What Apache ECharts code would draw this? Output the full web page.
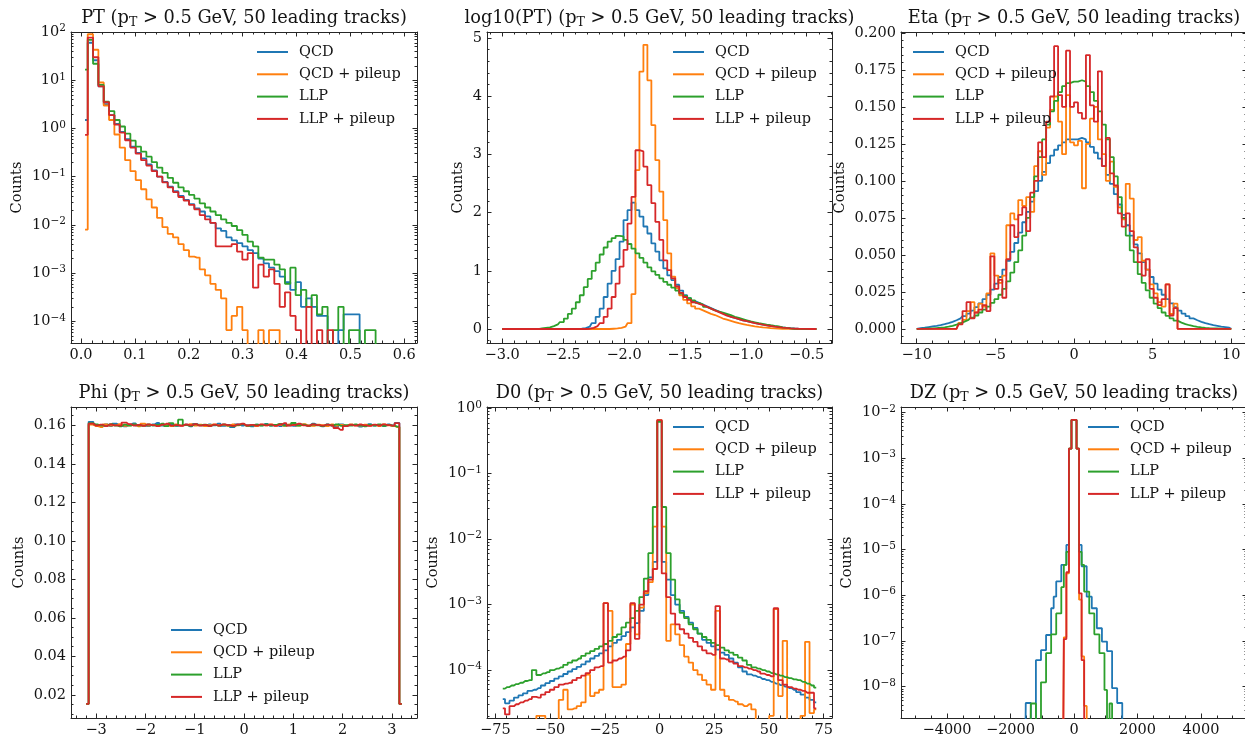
<!DOCTYPE html>
<html>
<head>
<meta charset="utf-8">
<title>Track-level distributions</title>
<script src="https://cdn.jsdelivr.net/npm/echarts@6/dist/echarts.min.js"></script>
<style>
  html, body { margin: 0; padding: 0; background: #ffffff; }
  #chart { width: 1245px; height: 739px; }
</style>
</head>
<body>
<div id="chart"></div>
<script>
// ---------------- data ----------------
const SERIES_NAMES = ['QCD', 'QCD + pileup', 'LLP', 'LLP + pileup'];
const COLORS = ['#1f77b4', '#ff7f0e', '#2ca02c', '#d62728'];

// PT histogram (density), bin centres from first to last
const ptBins = { first: 0.0075, last: 0.5913, n: 60 };
const ptXTicks = [0, 0.1, 0.2, 0.3, 0.4, 0.5, 0.6];
const ptYTicks = [1e-4, 1e-3, 1e-2, 1e-1, 1, 10, 100];
const ptQCD = [
  1.5, 60, 26, 7.5, 3.2, 1.9, 1.25, 0.85, 0.6, 0.42,
  0.31, 0.24, 0.18, 0.135, 0.1, 0.078, 0.062, 0.05, 0.04, 0.033,
  0.027, 0.022, 0.019, 0.015, 0.011, 0.0085, 0.0075, 0.0055, 0.0048, 0.0042,
  0.0036, 0.003, 0.0026, 0.002, 0.0016, 0.0013, 0.0011, 0.00085, 0.00065, 0.00045,
  0.00065, 0.0002, 0.0003, 0.0002, 0.00013, 0.00013, 0, 0, 0.000066, 0.00014,
  0.00014, 0.00014, 0, 0, 0, 0, 0, 0, 0, 0
];
const ptQCDpu = [
  0.008, 90, 43, 9, 3.0, 1.5, 0.75, 0.4, 0.22, 0.13,
  0.085, 0.055, 0.034, 0.023, 0.014, 0.009, 0.0065, 0.0055, 0.004, 0.003,
  0.0022, 0.0021, 0.0012, 0.0009, 0.0006, 0.00045, 0.0003, 0.000066, 0.00013, 0.0002,
  0.000066, 0, 0, 0.000066, 0, 0.000066, 0.000066, 0, 0, 0,
  0, 0, 0, 0, 0, 0, 0, 0, 0, 0,
  0, 0, 0, 0, 0, 0, 0, 0, 0, 0
];
const ptLLP = [
  16.6, 69, 22, 8.0, 3.6, 2.3, 1.5, 1.1, 0.78, 0.56,
  0.42, 0.33, 0.26, 0.2, 0.155, 0.12, 0.095, 0.075, 0.06, 0.05,
  0.042, 0.035, 0.028, 0.023, 0.019, 0.016, 0.013, 0.011, 0.0095, 0.0078,
  0.0062, 0.0045, 0.0036, 0.0021, 0.0019, 0.0019, 0.0015, 0.0012, 0.0006, 0.0013,
  0.00035, 0.00045, 0.0002, 0.00035, 0.00014, 0.0002, 0, 0.000066, 0.0002, 0,
  0.000066, 0.000066, 0, 0.000066, 0.000066, 0, 0, 0, 0, 0
];
const ptLLPpu = [
  0.74, 77, 30, 7.5, 3.5, 1.9, 1.2, 0.82, 0.57, 0.4,
  0.3, 0.22, 0.17, 0.13, 0.1, 0.076, 0.06, 0.048, 0.038, 0.032,
  0.026, 0.021, 0.016, 0.013, 0.011, 0.0036, 0.0036, 0.0036, 0.004, 0.0028,
  0.0019, 0.0026, 0.0005, 0.0015, 0.00085, 0.0012, 0.0006, 0.0002, 0.0004, 0.00013,
  0.000066, 0, 0.0002, 0, 0.000066, 0, 0.000066, 0, 0, 0,
  0, 0, 0, 0, 0, 0, 0, 0, 0, 0
];

// log10(PT)
const logPtBins = { first: -3.0, last: -0.42, n: 80 };
const logPtXTicks = [-3.0, -2.5, -2.0, -1.5, -1.0, -0.5];
const logPtYTicks = [0, 1, 2, 3, 4, 5];
const logPtQCD = [
  0, 0, 0, 0, 0, 0, 0, 0, 0, 0,
  0, 0, 0, 0, 0, 0, 0, 0, 0, 0,
  0.005, 0.015, 0.04, 0.1, 0.21, 0.35, 0.55, 0.78, 1.0, 1.2,
  1.5, 1.87, 2.04, 2.17, 2.04, 1.93, 1.76, 1.64, 1.47, 1.33,
  1.18, 1.04, 0.92, 0.84, 0.76, 0.66, 0.58, 0.53, 0.48, 0.45,
  0.42, 0.39, 0.36, 0.33, 0.3, 0.27, 0.24, 0.21, 0.19, 0.17,
  0.15, 0.135, 0.12, 0.105, 0.09, 0.077, 0.065, 0.054, 0.044, 0.035,
  0.027, 0.02, 0.014, 0.009, 0.005, 0.003, 0.001, 0, 0, 0
];
const logPtQCDpu = [
  0, 0, 0, 0, 0, 0, 0, 0, 0, 0,
  0, 0, 0, 0, 0, 0, 0, 0, 0, 0,
  0, 0, 0, 0, 0, 0, 0, 0, 0.005, 0.01,
  0.02, 0.04, 0.1, 0.6, 2.73, 4.42, 4.88, 4.27, 3.5, 2.9,
  2.36, 1.87, 1.3, 0.9, 0.7, 0.58, 0.5, 0.44, 0.39, 0.35,
  0.32, 0.29, 0.26, 0.24, 0.21, 0.18, 0.16, 0.14, 0.12, 0.1,
  0.085, 0.07, 0.058, 0.047, 0.038, 0.03, 0.023, 0.017, 0.012, 0.008,
  0.005, 0.003, 0.002, 0.001, 0, 0, 0, 0, 0, 0
];
const logPtLLP = [
  0, 0, 0, 0, 0, 0, 0, 0, 0, 0,
  0.01, 0.02, 0.03, 0.05, 0.08, 0.12, 0.18, 0.26, 0.35, 0.46,
  0.58, 0.72, 0.86, 1.0, 1.14, 1.28, 1.4, 1.5, 1.56, 1.6,
  1.59, 1.53, 1.46, 1.38, 1.3, 1.22, 1.14, 1.06, 0.99, 0.93,
  0.87, 0.81, 0.76, 0.71, 0.66, 0.61, 0.57, 0.53, 0.49, 0.45,
  0.42, 0.38, 0.35, 0.32, 0.3, 0.28, 0.26, 0.24, 0.21, 0.19,
  0.17, 0.15, 0.13, 0.115, 0.1, 0.088, 0.076, 0.065, 0.055, 0.046,
  0.03, 0.02, 0.012, 0.005, 0.002, 0, 0, 0, 0, 0
];
const logPtLLPpu = [
  0, 0, 0, 0, 0, 0, 0, 0, 0, 0,
  0, 0, 0, 0, 0, 0, 0, 0, 0, 0,
  0, 0, 0.005, 0.02, 0.05, 0.1, 0.21, 0.35, 0.55, 0.78,
  1.07, 1.36, 1.81, 2.27, 3.07, 3.05, 2.79, 2.47, 2.16, 1.84,
  1.53, 1.18, 1.01, 0.87, 0.73, 0.62, 0.55, 0.5, 0.46, 0.43,
  0.41, 0.38, 0.35, 0.32, 0.29, 0.26, 0.23, 0.21, 0.19, 0.17,
  0.15, 0.135, 0.12, 0.1, 0.088, 0.075, 0.063, 0.052, 0.042, 0.033,
  0.025, 0.018, 0.012, 0.008, 0.005, 0.003, 0.001, 0, 0, 0
];

// Eta
const etaBins = { first: -10, last: 10, n: 80 };
const etaXTicks = [-10, -5, 0, 5, 10];
const etaYTicks = [0, 0.025, 0.05, 0.075, 0.1, 0.125, 0.15, 0.175, 0.2];
const etaQCD = [
  0, 0.0005, 0.0008, 0.0012, 0.0016, 0.002, 0.0025, 0.0031, 0.0038, 0.0047,
  0.0058, 0.007, 0.0085, 0.0103, 0.0123, 0.0146, 0.0172, 0.02, 0.023, 0.0265,
  0.0305, 0.035, 0.04, 0.046, 0.052, 0.058, 0.065, 0.072, 0.079, 0.086,
  0.093, 0.1, 0.106, 0.112, 0.117, 0.121, 0.124, 0.126, 0.128, 0.128,
  0.128, 0.129, 0.128, 0.126, 0.123, 0.119, 0.115, 0.11, 0.104, 0.098,
  0.091, 0.084, 0.077, 0.07, 0.063, 0.057, 0.051, 0.045, 0.04, 0.035,
  0.0305, 0.0265, 0.023, 0.02, 0.0172, 0.0146, 0.0123, 0.0103, 0.0085, 0.007,
  0.0058, 0.0047, 0.0038, 0.0031, 0.0025, 0.002, 0.0015, 0.0011, 0.0007, 0
];
const etaQCDpu = [
  0, 0, 0, 0, 0, 0, 0, 0, 0, 0,
  0, 0.004, 0.006, 0.012, 0.018, 0.011, 0.017, 0.015, 0.024, 0.051,
  0.036, 0.031, 0.036, 0.07, 0.078, 0.074, 0.087, 0.083, 0.089, 0.079,
  0.11, 0.12, 0.104, 0.136, 0.148, 0.157, 0.14, 0.118, 0.158, 0.126,
  0.124, 0.127, 0.095, 0.125, 0.142, 0.15, 0.128, 0.118, 0.1, 0.113,
  0.096, 0.082, 0.074, 0.098, 0.088, 0.06, 0.062, 0.046, 0.04, 0.03,
  0.024, 0.018, 0.015, 0.03, 0.01, 0.017, 0, 0, 0, 0,
  0, 0, 0, 0, 0, 0, 0, 0, 0, 0
];
const etaLLP = [
  0, 0, 0.0001, 0.0002, 0.0003, 0.0005, 0.0007, 0.001, 0.0014, 0.002,
  0.0028, 0.0037, 0.0048, 0.006, 0.0075, 0.009, 0.011, 0.013, 0.015, 0.0175,
  0.02, 0.023, 0.027, 0.032, 0.038, 0.045, 0.053, 0.063, 0.075, 0.089,
  0.103, 0.116, 0.128, 0.138, 0.147, 0.154, 0.16, 0.164, 0.166, 0.167,
  0.167, 0.168, 0.167, 0.164, 0.16, 0.154, 0.147, 0.138, 0.128, 0.116,
  0.103, 0.089, 0.075, 0.063, 0.053, 0.045, 0.037, 0.031, 0.026, 0.021,
  0.017, 0.014, 0.011, 0.0088, 0.007, 0.0055, 0.0042, 0.0032, 0.0024, 0.0018,
  0.0013, 0.0009, 0.0006, 0.0004, 0.0003, 0.0002, 0.0001, 0, 0, 0
];
const etaLLPpu = [
  0, 0, 0, 0, 0, 0, 0, 0, 0, 0,
  0, 0.003, 0.012, 0.018, 0.007, 0.011, 0.013, 0.016, 0.012, 0.049,
  0.027, 0.033, 0.021, 0.047, 0.07, 0.062, 0.077, 0.082, 0.066, 0.092,
  0.1, 0.126, 0.116, 0.14, 0.157, 0.191, 0.158, 0.15, 0.188, 0.15,
  0.153, 0.146, 0.142, 0.185, 0.151, 0.14, 0.174, 0.11, 0.129, 0.105,
  0.097, 0.078, 0.069, 0.078, 0.066, 0.055, 0.045, 0.036, 0.047, 0.027,
  0.021, 0.016, 0.02, 0.03, 0.009, 0.014, 0, 0, 0, 0,
  0, 0, 0, 0, 0, 0, 0, 0, 0, 0
];

// Phi
const phiBins = { first: -3.2, last: 3.2, n: 68 };
const phiXTicks = [-3, -2, -1, 0, 1, 2, 3];
const phiYTicks = [0.02, 0.04, 0.06, 0.08, 0.1, 0.12, 0.14, 0.16];
const phiQCD = [
  0.0153, 0.1618, 0.1602, 0.1597, 0.1605, 0.1596, 0.1608, 0.1600, 0.1594, 0.1603,
  0.1610, 0.1599, 0.1601, 0.1596, 0.1604, 0.1612, 0.1598, 0.1601, 0.1606, 0.1597,
  0.1600, 0.1603, 0.1595, 0.1607, 0.1601, 0.1598, 0.1604, 0.1600, 0.1609, 0.1597,
  0.1602, 0.1590, 0.1605, 0.1599, 0.1601, 0.1594, 0.1603, 0.1600, 0.1607, 0.1598,
  0.1602, 0.1596, 0.1604, 0.1600, 0.1597, 0.1606, 0.1601, 0.1599, 0.1608, 0.1602,
  0.1595, 0.1604, 0.1600, 0.1593, 0.1605, 0.1596, 0.1603, 0.1601, 0.1593, 0.1600,
  0.1606, 0.1598, 0.1602, 0.1596, 0.1604, 0.1599, 0.1612, 0.0153
];
const phiQCDpu = [
  0.0153, 0.1603, 0.1596, 0.1591, 0.1604, 0.1598, 0.1601, 0.1606, 0.1597, 0.1600,
  0.1603, 0.1595, 0.1608, 0.1599, 0.1602, 0.1597, 0.1604, 0.1600, 0.1596, 0.1605,
  0.1599, 0.1601, 0.1606, 0.1598, 0.1603, 0.1596, 0.1601, 0.1605, 0.1599, 0.1602,
  0.1597, 0.1604, 0.1600, 0.1607, 0.1598, 0.1601, 0.1596, 0.1603, 0.1600, 0.1605,
  0.1599, 0.1602, 0.1597, 0.1604, 0.1601, 0.1598, 0.1606, 0.1600, 0.1597, 0.1603,
  0.1601, 0.1596, 0.1604, 0.1599, 0.1602, 0.1597, 0.1605, 0.1600, 0.1598, 0.1603,
  0.1599, 0.1602, 0.1596, 0.1604, 0.1600, 0.1597, 0.1591, 0.0153
];
const phiLLP = [
  0.0153, 0.1611, 0.1604, 0.1600, 0.1596, 0.1606, 0.1599, 0.1595, 0.1603, 0.1598,
  0.1605, 0.1600, 0.1597, 0.1604, 0.1599, 0.1602, 0.1608, 0.1596, 0.1611, 0.1598,
  0.1629, 0.1601, 0.1597, 0.1605, 0.1600, 0.1603, 0.1596, 0.1602, 0.1598, 0.1604,
  0.1599, 0.1595, 0.1601, 0.1606, 0.1597, 0.1600, 0.1603, 0.1598, 0.1605, 0.1599,
  0.1602, 0.1607, 0.1598, 0.1601, 0.1612, 0.1599, 0.1603, 0.1597, 0.1604, 0.1600,
  0.1596, 0.1603, 0.1599, 0.1605, 0.1597, 0.1601, 0.1598, 0.1604, 0.1600, 0.1595,
  0.1602, 0.1599, 0.1605, 0.1597, 0.1601, 0.1598, 0.1593, 0.0153
];
const phiLLPpu = [
  0.0153, 0.1609, 0.1599, 0.1603, 0.1596, 0.1604, 0.1600, 0.1598, 0.1614, 0.1606,
  0.1599, 0.1602, 0.1597, 0.1605, 0.1601, 0.1596, 0.1603, 0.1608, 0.1598, 0.1601,
  0.1597, 0.1604, 0.1600, 0.1606, 0.1598, 0.1602, 0.1596, 0.1603, 0.1599, 0.1605,
  0.1601, 0.1597, 0.1604, 0.1608, 0.1599, 0.1602, 0.1598, 0.1605, 0.1600, 0.1603,
  0.1597, 0.1604, 0.1611, 0.1599, 0.1602, 0.1608, 0.1600, 0.1597, 0.1605, 0.1601,
  0.1598, 0.1603, 0.1599, 0.1586, 0.1576, 0.1596, 0.1602, 0.1598, 0.1604, 0.1600,
  0.1597, 0.1603, 0.1599, 0.1605, 0.1601, 0.1598, 0.1611, 0.0153
];

// D0
const d0Bins = { first: -71.6, last: 71.6, n: 71 };
const d0XTicks = [-75, -50, -25, 0, 25, 50, 75];
const d0YTicks = [1e-4, 1e-3, 1e-2, 1e-1, 1];
const d0QCD = [
  3.6e-5, 3.1e-5, 3.4e-5, 3.8e-5, 4.1e-5, 4.4e-5, 4.8e-5, 5.0e-5, 5.3e-5, 5.8e-5,
  6.3e-5, 6.8e-5, 7.4e-5, 8.0e-5, 8.7e-5, 9.5e-5, 1.03e-4, 1.12e-4, 1.22e-4, 1.35e-4,
  1.5e-4, 1.65e-4, 1.8e-4, 2.0e-4, 2.3e-4, 2.6e-4, 2.9e-4, 3.3e-4, 3.8e-4, 4.5e-4,
  5.2e-4, 8.0e-4, 1.4e-3, 2.6e-3, 4.5e-3, 0.64, 4.5e-3, 2.4e-3, 1.4e-3, 1.0e-3,
  8.0e-4, 6.5e-4, 5.3e-4, 4.4e-4, 3.6e-4, 2.9e-4, 2.6e-4, 2.3e-4, 2.05e-4, 1.85e-4,
  1.7e-4, 1.5e-4, 1.3e-4, 1.1e-4, 9.5e-5, 8.6e-5, 8.2e-5, 7.8e-5, 7.3e-5, 7.0e-5,
  6.6e-5, 6.2e-5, 5.9e-5, 5.6e-5, 5.3e-5, 5.0e-5, 4.6e-5, 4.2e-5, 3.8e-5, 3.5e-5, 3.2e-5
];
const d0QCDpu = [
  0, 0, 0, 0, 0, 0, 0, 0, 2.0e-5, 2.0e-5,
  0, 0, 0, 3.5e-5, 5.0e-5, 2.5e-5, 2.6e-5, 2.8e-5, 3.2e-5, 8.5e-5,
  4.0e-5, 4.5e-5, 5.0e-5, 1.05e-3, 8.0e-4, 5.5e-5, 5.5e-5, 6.0e-5, 2.5e-4, 1.0e-3,
  3.5e-4, 9.0e-4, 1.5e-3, 2.2e-3, 1.55e-2, 0.66, 1.55e-2, 2.8e-4, 5.0e-4, 3.5e-4,
  2.4e-4, 1.6e-4, 1.3e-4, 1.0e-4, 8.5e-5, 7.0e-5, 6.0e-5, 5.0e-5, 8.0e-4, 5.0e-5,
  4.0e-5, 3.5e-5, 3.3e-5, 3.0e-5, 2.8e-5, 3.0e-5, 2.5e-5, 0, 0, 0,
  2.0e-5, 8.5e-4, 4.0e-5, 2.8e-4, 0, 0, 0, 2.0e-5, 2.7e-4, 2.2e-5, 2.5e-5
];
const d0LLP = [
  5.2e-5, 5.5e-5, 5.8e-5, 6.1e-5, 6.4e-5, 6.8e-5, 7.0e-5, 1.0e-4, 8.4e-5, 8.9e-5,
  9.3e-5, 1.0e-4, 1.05e-4, 1.1e-4, 1.2e-4, 1.3e-4, 1.4e-4, 1.5e-4, 1.65e-4, 1.8e-4,
  1.95e-4, 2.1e-4, 2.3e-4, 2.5e-4, 2.8e-4, 3.2e-4, 3.5e-4, 4.5e-4, 5.3e-4, 6.2e-4,
  8.0e-4, 1.3e-3, 2.5e-3, 6.1e-3, 3.1e-2, 0.62, 3.1e-2, 6.1e-3, 2.4e-3, 1.2e-3,
  7.5e-4, 6.2e-4, 5.0e-4, 4.2e-4, 3.6e-4, 3.2e-4, 2.9e-4, 2.6e-4, 2.4e-4, 2.2e-4,
  2.0e-4, 1.85e-4, 1.7e-4, 1.55e-4, 1.4e-4, 1.2e-4, 1.1e-4, 1.05e-4, 1.0e-4, 9.5e-5,
  9.0e-5, 8.6e-5, 8.2e-5, 7.8e-5, 7.5e-5, 7.2e-5, 7.0e-5, 6.6e-5, 6.2e-5, 5.8e-5, 5.4e-5
];
const d0LLPpu = [
  2.6e-5, 2.1e-5, 2.8e-5, 3.0e-5, 3.2e-5, 3.4e-5, 3.6e-5, 3.9e-5, 3.8e-5, 4.2e-5,
  4.6e-5, 5.0e-5, 5.5e-5, 6.0e-5, 6.2e-5, 6.4e-5, 7.0e-5, 7.6e-5, 8.2e-5, 9.0e-5,
  1.0e-4, 1.1e-4, 1.15e-4, 1.05e-3, 1.3e-4, 1.4e-4, 1.5e-4, 1.6e-4, 2.0e-4, 1.05e-3,
  3.0e-4, 1.0e-3, 1.6e-3, 2.4e-3, 3.5e-3, 0.66, 3.0e-3, 1.3e-3, 7.3e-4, 5.0e-4,
  4.2e-4, 3.6e-4, 3.1e-4, 2.7e-4, 2.3e-4, 2.0e-4, 1.8e-4, 1.7e-4, 9.5e-4, 1.5e-4,
  1.45e-4, 1.35e-4, 1.25e-4, 1.15e-4, 1.1e-4, 1.05e-4, 1.0e-4, 9.5e-5, 8.8e-5, 8.4e-5,
  8.0e-5, 8.8e-4, 7.0e-5, 6.0e-5, 5.5e-5, 5.2e-5, 5.0e-5, 4.8e-5, 4.5e-5, 4.5e-5, 2.6e-5
];

// DZ
const dzBins = { first: -1640, last: 1640, n: 42 };
const dzXTicks = [-4000, -2000, 0, 2000, 4000];
const dzYTicks = [1e-8, 1e-7, 1e-6, 1e-5, 1e-4, 1e-3, 1e-2];
const dzQCD = [
  0, 0, 4.4e-9, 4.4e-9, 0, 0, 3.8e-8, 3.8e-8, 6.3e-8, 6.3e-8,
  1.35e-7, 1.35e-7, 5.2e-7, 9.3e-7, 2.0e-6, 2.0e-6, 4.6e-6, 4.6e-6, 1.26e-5, 1.6e-3,
  6.8e-3, 6.8e-3, 1.6e-3, 1.26e-5, 4.3e-6, 4.3e-6, 9.3e-7, 9.3e-7, 5.2e-7, 5.2e-7,
  1.9e-7, 1.9e-7, 9.7e-8, 9.7e-8, 6.0e-8, 6.0e-8, 9.3e-9, 9.3e-9, 4.4e-9, 4.4e-9,
  0, 0
];
const dzQCDpu = [
  0, 0, 0, 0, 0, 0, 0, 0, 0, 0,
  0, 0, 0, 0, 0, 0, 0, 1.2e-7, 3.0e-6, 1.6e-3,
  6.8e-3, 6.8e-3, 1.6e-3, 8.0e-7, 4.6e-8, 3.8e-9, 0, 0, 0, 0,
  0, 0, 0, 0, 0, 0, 0, 0, 0, 0,
  0, 0
];
const dzLLP = [
  0, 0, 0, 0, 4.3e-9, 4.3e-9, 0, 0, 1.25e-8, 1.25e-8,
  5.4e-8, 5.4e-8, 1.4e-7, 1.4e-7, 4.0e-7, 4.0e-7, 1.5e-6, 4.6e-6, 8.9e-6, 1.6e-3,
  6.8e-3, 6.8e-3, 1.6e-3, 8.9e-6, 4.6e-6, 1.2e-6, 1.2e-6, 4.0e-7, 4.0e-7, 1.4e-7,
  1.4e-7, 5.4e-8, 5.4e-8, 8.5e-9, 0, 4.3e-9, 0, 0, 0, 0,
  0, 0
];
const dzLLPpu = [
  0, 0, 0, 0, 0, 0, 0, 0, 0, 0,
  0, 0, 0, 0, 0, 0, 0, 1.1e-7, 3.2e-6, 1.6e-3,
  6.8e-3, 6.8e-3, 1.6e-3, 1.1e-6, 3.8e-8, 0, 0, 0, 0, 0,
  0, 0, 0, 0, 0, 0, 0, 0, 0, 0,
  0, 0
];

// ---------------- styling helpers ----------------
const FONT = 'DejaVu Serif';
const TXT = '#141414';
const SPINE = '#262626';
const FS = 14.5;

function binCenters(b) {
  const out = [];
  for (let i = 0; i < b.n; i++) out.push(b.first + (b.last - b.first) * i / (b.n - 1));
  return out;
}
const minus = s => s.replace('-', '\u2212');
const fixed = d => v => minus(v.toFixed(d));
const intFmt = v => minus(String(Math.round(v)));
const logFmt = v => '{b|10}{e|' + minus(String(Math.round(Math.log10(v)))) + '}';
const LOG_RICH = {
  b: { fontFamily: FONT, fontSize: FS, color: TXT, lineHeight: 18 },
  e: { fontFamily: FONT, fontSize: 10.5, color: TXT, lineHeight: 8, verticalAlign: 'top' }
};

function linMinors(range, step, majors) {
  const out = [];
  const start = Math.ceil(range[0] / step - 1e-9);
  for (let k = start; k * step <= range[1] + 1e-12; k++) {
    const v = +(k * step).toFixed(10);
    if (!majors.some(m => Math.abs(m - v) < step * 1e-3)) out.push(v);
  }
  return out;
}
function logMinors(range) {
  const out = [];
  for (let e = Math.floor(Math.log10(range[0])); e <= Math.ceil(Math.log10(range[1])); e++) {
    for (let k = 2; k <= 9; k++) {
      const v = k * Math.pow(10, e);
      if (v >= range[0] && v <= range[1]) out.push(v);
    }
  }
  return out;
}

const panels = [
  { title: 'PT', rect: [71, 32, 346, 311], xRange: [-0.0186, 0.6236], yRange: [3.56e-5, 100.3], yLog: true,
    bins: ptBins, data: [ptQCD, ptQCDpu, ptLLP, ptLLPpu],
    xTicks: ptXTicks, xMinor: 0.02, yTicks: ptYTicks, xFmt: fixed(1), legend: [257, 44.5], nameGap: 46 },
  { title: 'log10(PT)', rect: [487, 32, 345, 311], xRange: [-3.125, -0.292], yRange: [-0.24, 5.10], yLog: false,
    bins: logPtBins, data: [logPtQCD, logPtQCDpu, logPtLLP, logPtLLPpu],
    xTicks: logPtXTicks, xMinor: 0.1, yTicks: logPtYTicks, yMinor: 0.2, xFmt: fixed(1), yFmt: intFmt,
    legend: [673, 44.5], nameGap: 21 },
  { title: 'Eta', rect: [901, 32, 346, 311], xRange: [-11, 11], yRange: [-0.0096, 0.2006], yLog: false,
    bins: etaBins, data: [etaQCD, etaQCDpu, etaLLP, etaLLPpu],
    xTicks: etaXTicks, xMinor: 1, yTicks: etaYTicks, yMinor: 0.005, xFmt: intFmt, yFmt: fixed(3),
    legend: [913, 44.5], nameGap: 53 },
  { title: 'Phi', rect: [71, 407, 346, 311], xRange: [-3.51, 3.51], yRange: [0.008, 0.1695], yLog: false,
    bins: phiBins, data: [phiQCD, phiQCDpu, phiLLP, phiLLPpu],
    xTicks: phiXTicks, xMinor: 0.2, yTicks: phiYTicks, yMinor: 0.005, xFmt: intFmt, yFmt: fixed(2),
    legend: [171, 622.5], nameGap: 44 },
  { title: 'D0', rect: [487, 407, 345, 311], xRange: [-78.8, 78.8], yRange: [1.85e-5, 1.046], yLog: true,
    bins: d0Bins, data: [d0QCD, d0QCDpu, d0LLP, d0LLPpu],
    xTicks: d0XTicks, xMinor: 5, yTicks: d0YTicks, xFmt: intFmt, legend: [673, 419.5], nameGap: 46 },
  { title: 'DZ', rect: [901, 407, 346, 311], xRange: [-5450, 5450], yRange: [2.07e-9, 0.01305], yLog: true,
    bins: dzBins, data: [dzQCD, dzQCDpu, dzLLP, dzLLPpu],
    xTicks: dzXTicks, xMinor: 500, yTicks: dzYTicks, xFmt: intFmt, legend: [1088, 419.5], nameGap: 46 }
];

function makeAxis(o) {
  const ax = {
    type: o.type, gridIndex: o.gi, position: o.pos, min: o.range[0], max: o.range[1],
    axisLine: { show: o.line, onZero: false, lineStyle: { color: SPINE, width: 1 } },
    axisTick: { show: true, inside: true, length: o.len, customValues: o.ticks,
                lineStyle: { color: SPINE, width: 1 } },
    axisLabel: o.fmt ? {
      show: true, customValues: o.ticks, formatter: o.fmt, margin: o.margin,
      color: TXT, fontFamily: FONT, fontSize: FS, rich: o.rich
    } : { show: false },
    splitLine: { show: false }, minorTick: { show: false }, minorSplitLine: { show: false },
    silent: true
  };
  if (o.type === 'log') ax.logBase = 10;
  if (o.name) {
    ax.name = o.name; ax.nameLocation = 'middle'; ax.nameGap = o.nameGap; ax.nameMoveOverlap = false;
    ax.nameTextStyle = { fontFamily: FONT, fontSize: FS, color: TXT };
  }
  return ax;
}

const xAxes = [], yAxes = [], series = [], legends = [], graphics = [];

panels.forEach((p, gi) => {
  const xMinorTicks = linMinors(p.xRange, p.xMinor, p.xTicks);
  const yType = p.yLog ? 'log' : 'value';
  const yMinorTicks = p.yLog ? logMinors(p.yRange) : linMinors(p.yRange, p.yMinor, p.yTicks);
  const yFmt = p.yLog ? logFmt : p.yFmt;

  const xMain = xAxes.length;
  xAxes.push(makeAxis({ type: 'value', gi, pos: 'bottom', range: p.xRange, line: true, len: 4.5,
                        ticks: p.xTicks, fmt: p.xFmt, margin: 4.5 }));
  xAxes.push(makeAxis({ type: 'value', gi, pos: 'bottom', range: p.xRange, line: false, len: 2.5, ticks: xMinorTicks }));
  xAxes.push(makeAxis({ type: 'value', gi, pos: 'top', range: p.xRange, line: true, len: 4.5, ticks: p.xTicks }));
  xAxes.push(makeAxis({ type: 'value', gi, pos: 'top', range: p.xRange, line: false, len: 2.5, ticks: xMinorTicks }));

  const yMain = yAxes.length;
  yAxes.push(makeAxis({ type: yType, gi, pos: 'left', range: p.yRange, line: true, len: 4.5,
                        ticks: p.yTicks, fmt: yFmt, margin: 5, rich: p.yLog ? LOG_RICH : undefined,
                        name: 'Counts', nameGap: p.nameGap }));
  yAxes.push(makeAxis({ type: yType, gi, pos: 'left', range: p.yRange, line: false, len: 2.5, ticks: yMinorTicks }));
  yAxes.push(makeAxis({ type: yType, gi, pos: 'right', range: p.yRange, line: true, len: 4.5, ticks: p.yTicks }));
  yAxes.push(makeAxis({ type: yType, gi, pos: 'right', range: p.yRange, line: false, len: 2.5, ticks: yMinorTicks }));

  const cs = binCenters(p.bins);
  const floor = p.yLog ? p.yRange[0] * 1e-3 : null;
  p.data.forEach((arr, si) => {
    series.push({
      type: 'line', name: SERIES_NAMES[si], xAxisIndex: xMain, yAxisIndex: yMain,
      step: 'middle', symbol: 'none', showSymbol: false, clip: true, silent: true,
      data: arr.map((v, i) => [cs[i], (p.yLog && v <= 0) ? floor : v]),
      lineStyle: { color: COLORS[si], width: 1.8 }, itemStyle: { color: COLORS[si] },
      emphasis: { disabled: true }
    });
  });

  legends.push({
    data: SERIES_NAMES, left: p.legend[0], top: p.legend[1], orient: 'vertical', padding: 0,
    icon: 'rect', itemWidth: 31, itemHeight: 2, itemGap: 7.3, selectedMode: false,
    textStyle: { fontFamily: FONT, fontSize: FS, color: TXT, lineHeight: 15, padding: [0, 0, 0, 6] }
  });

  graphics.push({
    type: 'text', x: p.rect[0] + p.rect[2] / 2, y: p.rect[1] - 14, silent: true,
    style: {
      text: '{n|' + p.title + ' (p}{s|T}{n| > 0.5 GeV, 50 leading tracks)}',
      align: 'center', verticalAlign: 'middle',
      rich: {
        n: { fontFamily: FONT, fontSize: 17.8, fill: TXT, lineHeight: 22 },
        s: { fontFamily: FONT, fontSize: 12.5, fill: TXT, lineHeight: 12, verticalAlign: 'bottom' }
      }
    }
  });
});

const chart = echarts.init(document.getElementById('chart'), null, { renderer: 'canvas' });
chart.setOption({
  animation: false,
  backgroundColor: '#ffffff',
  textStyle: { fontFamily: FONT },
  grid: panels.map(p => ({
    left: p.rect[0], top: p.rect[1], width: p.rect[2], height: p.rect[3],
    containLabel: false, outerBoundsMode: 'none', show: false
  })),
  xAxis: xAxes,
  yAxis: yAxes,
  legend: legends,
  graphic: graphics,
  series: series
});
</script>
</body>
</html>
